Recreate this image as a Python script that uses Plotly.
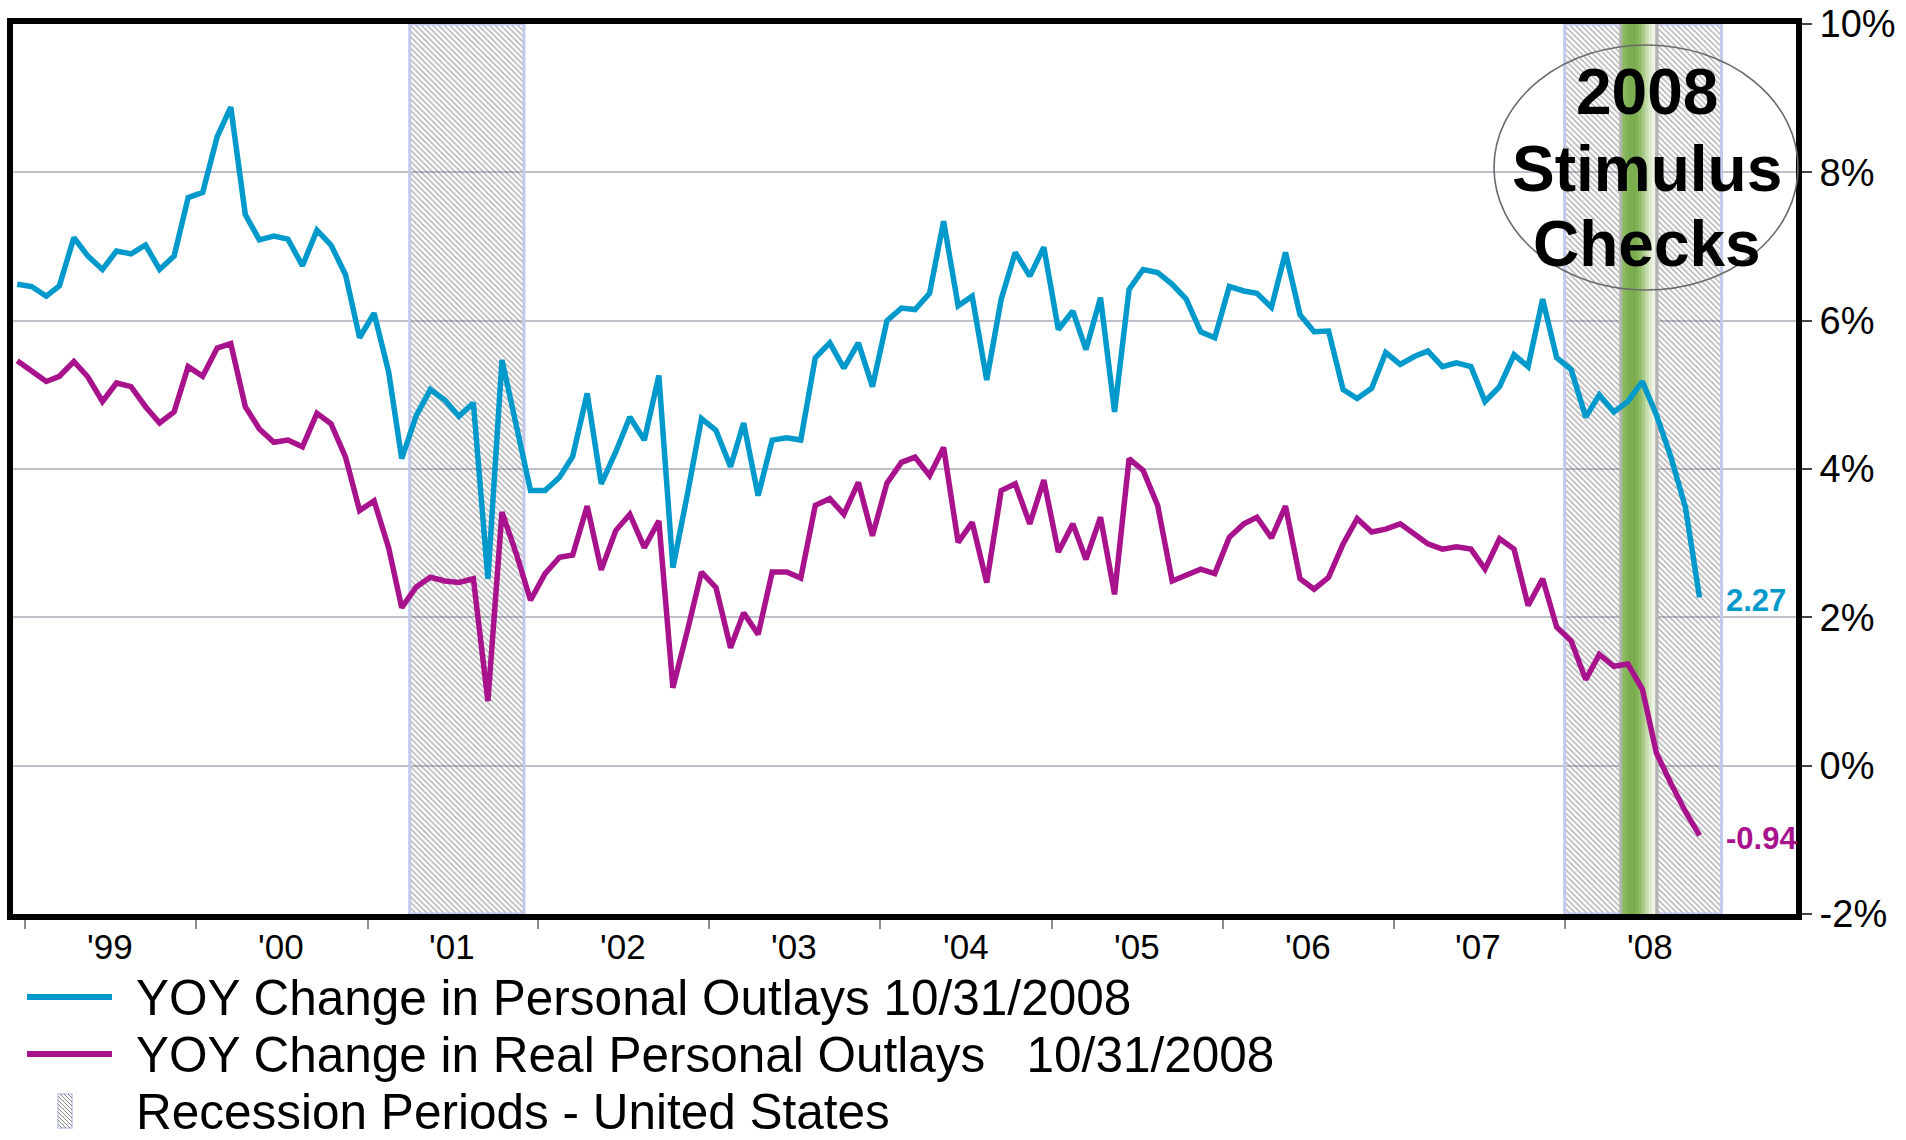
import pandas as pd
import plotly.graph_objects as go

# ---------------- data ----------------
personal_outlays = [
    6.49, 6.46, 6.33, 6.47, 7.12, 6.87, 6.69, 6.94, 6.90, 7.02, 6.69, 6.87,
    7.66, 7.73, 8.48, 8.88, 7.43, 7.09, 7.14, 7.10, 6.74, 7.22, 7.02, 6.62,
    5.77, 6.10, 5.31, 4.14, 4.72, 5.07, 4.93, 4.71, 4.89, 2.52, 5.47, 4.59,
    3.71, 3.71, 3.89, 4.17, 5.02, 3.80, 4.23, 4.70, 4.39, 5.26, 2.67, 3.66,
    4.68, 4.52, 4.03, 4.62, 3.64, 4.39, 4.42, 4.39, 5.50, 5.70, 5.36, 5.70,
    5.11, 6.00, 6.17, 6.15, 6.37, 7.34, 6.20, 6.33, 5.20, 6.29, 6.92, 6.60,
    6.99, 5.88, 6.13, 5.61, 6.31, 4.77, 6.42, 6.69, 6.65, 6.49, 6.29, 5.85,
    5.77, 6.46, 6.40, 6.37, 6.18, 6.92, 6.08, 5.85, 5.86, 5.07, 4.95, 5.09,
    5.57, 5.41, 5.52, 5.59, 5.38, 5.43, 5.38, 4.91, 5.11, 5.54, 5.38, 6.29,
    5.50, 5.34, 4.70, 5.00, 4.77, 4.91, 5.18, 4.73, 4.16, 3.48, 2.27,
]
real_personal_outlays = [
    5.46, 5.31, 5.18, 5.25, 5.45, 5.24, 4.91, 5.16, 5.11, 4.84, 4.62, 4.77,
    5.38, 5.25, 5.63, 5.69, 4.84, 4.54, 4.36, 4.39, 4.30, 4.75, 4.61, 4.16,
    3.44, 3.57, 2.94, 2.13, 2.41, 2.54, 2.49, 2.47, 2.52, 0.87, 3.42, 2.85,
    2.23, 2.59, 2.81, 2.84, 3.50, 2.64, 3.17, 3.39, 2.94, 3.30, 1.05, 1.82,
    2.61, 2.40, 1.59, 2.06, 1.77, 2.61, 2.61, 2.53, 3.51, 3.60, 3.39, 3.82,
    3.10, 3.81, 4.09, 4.16, 3.91, 4.29, 3.01, 3.28, 2.47, 3.71, 3.80, 3.26,
    3.85, 2.88, 3.26, 2.78, 3.35, 2.31, 4.14, 3.98, 3.51, 2.49, 2.56, 2.65,
    2.59, 3.08, 3.26, 3.35, 3.07, 3.50, 2.52, 2.38, 2.54, 2.99, 3.33, 3.15,
    3.19, 3.26, 3.12, 2.99, 2.92, 2.95, 2.92, 2.65, 3.06, 2.92, 2.16, 2.52,
    1.87, 1.68, 1.16, 1.50, 1.34, 1.37, 1.03, 0.17, -0.24, -0.62, -0.94,
]
months = pd.date_range("1998-12-01", periods=len(personal_outlays), freq="MS") + pd.Timedelta(days=14)

recession_start = ["2001-04-01", "2008-01-01"]
recession_end = ["2001-12-01", "2008-12-01"]
stimulus_start = "2008-04-27"
stimulus_end = "2008-07-19"

year_ticks = [f"{y}-01-01" for y in range(1999, 2009)]
year_label_pos = [f"{y}-07-01" for y in range(1999, 2009)]
year_labels = ["'99", "'00", "'01", "'02", "'03", "'04", "'05", "'06", "'07", "'08"]
y_ticks = [-2, 0, 2, 4, 6, 8, 10]
y_tick_labels = ["-2%", "0%", "2%", "4%", "6%", "8%", "10%"]
legend_labels = [
    "YOY Change in Personal Outlays 10/31/2008",
    "YOY Change in Real Personal Outlays   10/31/2008",
    "Recession Periods - United States",
]
stimulus_text = ["2008", "Stimulus", "Checks"]

# ---------------- style ----------------
BLUE = "#0099cc"
MAGENTA = "#a8128c"
FONT = "Liberation Sans, Arial, sans-serif"
W, H = 1906, 1140
PL, PR, PT, PB = 13, 1796, 24, 914          # plot area in pixels
Y_MIN, Y_MAX = -2, 10
X_RANGE = ["1998-12-06", "2009-05-09"]
stimulus_gradient = ["#8dba63", "#84b459", "#7cae50", "#7aac4e", "#82b257",
                     "#93bd6b", "#abcb8b", "#c6dcac", "#dce9cc", "#edf4e6"]
LEGEND_ROWS = [997, 1054, 1111]
STIMULUS_ROWS = [9.08, 8.05, 7.04]


def px_x(px):
    return (px - PL) / (PR - PL)


def px_y(py):
    return (PB - py) / (PB - PT)


fig = go.Figure()

# recession shading (hatched)
for s, e in zip(recession_start, recession_end):
    fig.add_trace(go.Scatter(
        x=[s, s, e, e, s], y=[Y_MIN, Y_MAX, Y_MAX, Y_MIN, Y_MIN],
        mode="lines", fill="toself", fillcolor="rgba(255,255,255,0)",
        fillpattern=dict(shape="\\", fgcolor="#5a5a5a", bgcolor="rgba(255,255,255,0)",
                         size=4, solidity=0.35),
        line=dict(color="#c3c9ea", width=3), hoverinfo="skip", showlegend=False))

# stimulus band with gradient
s = pd.Timestamp(stimulus_start)
e = pd.Timestamp(stimulus_end)
edge = pd.Timedelta(days=6)
inner_s, inner_e = s + edge, e - edge
n = len(stimulus_gradient)
segments = [(s, inner_s + pd.Timedelta(days=1), "#b4b4b4")]
for k, col in enumerate(stimulus_gradient):
    a = inner_s + (inner_e - inner_s) * k / n
    b = inner_s + (inner_e - inner_s) * (k + 1) / n + pd.Timedelta(days=1)
    segments.append((a, b, col))
segments.append((inner_e, e, "#b4b4b4"))
for a, b, col in segments:
    fig.add_trace(go.Scatter(
        x=[a, a, b, b, a], y=[Y_MIN, Y_MAX, Y_MAX, Y_MIN, Y_MIN],
        mode="lines", fill="toself", fillcolor=col,
        line=dict(color=col, width=0.5), hoverinfo="skip", showlegend=False))

# data lines
fig.add_trace(go.Scatter(x=months, y=real_personal_outlays, mode="lines",
                         line=dict(color=MAGENTA, width=5.5), name=legend_labels[1],
                         showlegend=False))
fig.add_trace(go.Scatter(x=months, y=personal_outlays, mode="lines",
                         line=dict(color=BLUE, width=5.5), name=legend_labels[0],
                         showlegend=False))

annotations = []
# last value labels
for series, col in [(personal_outlays, BLUE), (real_personal_outlays, MAGENTA)]:
    annotations.append(dict(
        x=months[-1], y=series[-1], xref="x", yref="y", text=f"<b>{series[-1]:.2f}</b>",
        showarrow=False, xanchor="left", yanchor="middle", xshift=24, yshift=-3,
        font=dict(family=FONT, size=31, color=col)))

# x tick labels centred in each year
for pos, lab in zip(year_label_pos, year_labels):
    annotations.append(dict(
        x=pos, y=px_y(946), xref="x", yref="paper", text=lab, showarrow=False,
        xanchor="center", yanchor="middle", font=dict(family=FONT, size=35, color="black")))

# stimulus text
for txt, yv in zip(stimulus_text, STIMULUS_ROWS):
    annotations.append(dict(
        x=px_x(1647), y=yv, xref="paper", yref="y", text=f"<b>{txt}</b>", showarrow=False,
        xanchor="center", yanchor="middle", font=dict(family=FONT, size=64, color="black")))

# legend texts
for txt, py in zip(legend_labels, LEGEND_ROWS):
    annotations.append(dict(
        x=px_x(134), y=px_y(py), xref="paper", yref="paper", text=txt, showarrow=False,
        xanchor="left", yanchor="middle", font=dict(family=FONT, size=49.5, color="black")))

shapes = []
# ellipse around stimulus text
shapes.append(dict(type="circle", xref="paper", yref="paper",
                   x0=px_x(1494), x1=px_x(1798), y0=px_y(290), y1=px_y(45),
                   line=dict(color="#6a6a6a", width=1.6), fillcolor="rgba(0,0,0,0)", layer="above"))
# legend line symbols
for col, py in [(BLUE, LEGEND_ROWS[0]), (MAGENTA, LEGEND_ROWS[1])]:
    shapes.append(dict(type="line", xref="paper", yref="paper",
                       x0=px_x(27), x1=px_x(112), y0=px_y(py), y1=px_y(py),
                       line=dict(color=col, width=6)))
# legend hatch symbol
hx0, hx1 = 58, 72
hy0, hy1 = LEGEND_ROWS[2] - 17, LEGEND_ROWS[2] + 17
shapes.append(dict(type="rect", xref="paper", yref="paper",
                   x0=px_x(hx0), x1=px_x(hx1), y0=px_y(hy1), y1=px_y(hy0),
                   line=dict(color="#c3c9ea", width=1.5), fillcolor="white"))
wdt = hx1 - hx0
t = -wdt
while t < hy1 - hy0:
    ax, ay = hx0, hy0 + t
    bx, by = hx1, hy0 + t + wdt
    if ay < hy0:
        ax, ay = hx0 + (hy0 - ay), hy0
    if by > hy1:
        bx, by = hx1 - (by - hy1), hy1
    if bx > ax:
        shapes.append(dict(type="line", xref="paper", yref="paper",
                           x0=px_x(ax), x1=px_x(bx), y0=px_y(ay), y1=px_y(by),
                           line=dict(color="#8a8a8a", width=1)))
    t += 4

fig.update_layout(
    width=W, height=H,
    margin=dict(l=PL, r=W - PR, t=PT, b=H - PB, pad=0, autoexpand=False),
    paper_bgcolor="white", plot_bgcolor="white",
    showlegend=False,
    annotations=annotations, shapes=shapes,
    font=dict(family=FONT, color="black"),
)
fig.update_xaxes(type="date", range=X_RANGE, tickmode="array", tickvals=year_ticks,
                 showticklabels=False, ticks="outside", ticklen=9, tickwidth=2,
                 tickcolor="#8c8c8c", showgrid=False, zeroline=False, automargin=False,
                 showline=True, mirror=True, linewidth=6, linecolor="black")
fig.update_yaxes(side="right", range=[Y_MIN, Y_MAX], tickmode="array", tickvals=y_ticks,
                 ticktext=y_tick_labels, ticks="outside", ticklen=10, tickwidth=2,
                 tickcolor="#444444", showgrid=True, gridcolor="#c2bfcd", gridwidth=2,
                 zeroline=False, showline=True, mirror=True, linewidth=6, linecolor="black",
                 automargin=False, tickfont=dict(family=FONT, size=38, color="black"))

fig.write_html("out.html", config={"displayModeBar": False},
               post_script="document.body.style.margin='0px';")
